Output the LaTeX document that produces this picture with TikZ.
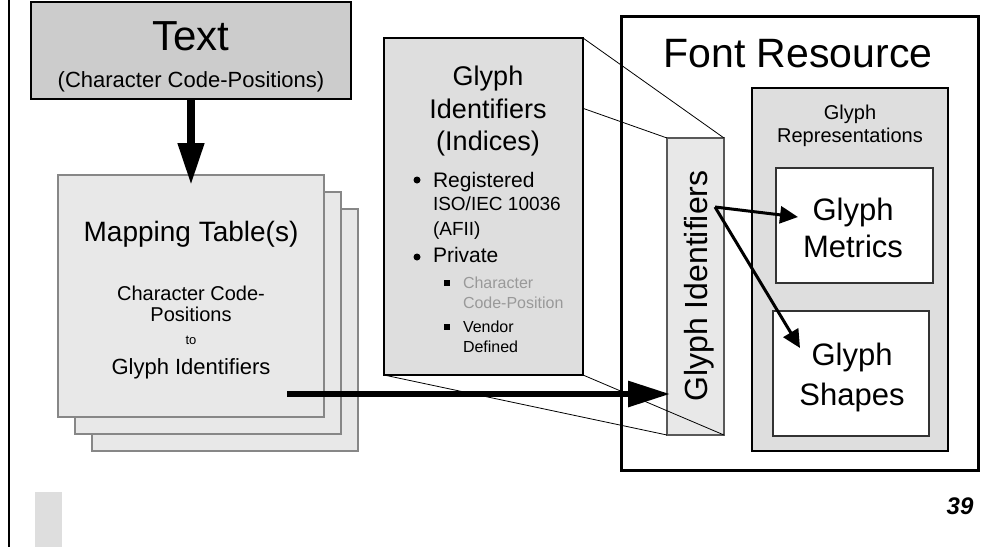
\documentclass[tikz,border=0pt]{standalone}
\usepackage{fontspec}
\setmainfont{Liberation Sans}
\usetikzlibrary{arrows.meta}
\newcommand{\sz}[1]{\fontsize{#1}{#1}\selectfont}

\begin{document}
\begin{tikzpicture}[x=1pt, y=-1pt,
  every node/.style = {outer sep=0pt, inner sep=0pt},
  txt/.style = {anchor=base, font=\sz{#1}},
  textbox/.style = {draw, line width=2pt, fill=black!20},
  sheet/.style = {draw=black!47, line width=1.8pt, fill=black!9,
    minimum width=266pt, minimum height=242pt},
  idxbox/.style = {draw, line width=2pt, fill=black!13},
  fontbox/.style = {draw, line width=3pt, fill=white},
  repbox/.style = {draw, line width=2.5pt, fill=black!13},
  glyphbox/.style = {draw=black!80, line width=1.5pt, fill=white},
  idbar/.style = {draw=black!65, line width=1.2pt, fill=black!9},
  proj/.style = {line width=0.8pt},
  bigarrow/.style = {line width=#1, -{Triangle[length=42pt,width=25pt]}},
  smallarrow/.style = {line width=3pt, -{Triangle[length=18pt,width=17pt]}}]

  \useasboundingbox (0,0) rectangle (1003,547);

  % page furniture
  \draw[line width=1.2pt] (9,0) -- (9,547);
  \fill[black!13] (35,492) rectangle (62,547);
  \node[anchor=base, font=\sz{24}\bfseries\itshape] (pageno) at (960,514) {39};

  % text
  \node[textbox, minimum width=320pt, minimum height=97pt] (text) at (191,50.5) {};
  \node[txt=42] (textT) at (191,50) {Text};
  \node[txt=22] (textC) at (191,87) {(Character Code-Positions)};

  % mapping tables, back to front
  \foreach \i in {3,2,1}
    \node[sheet] (map\i) at ({191+17*(\i-1)}, {296+17*(\i-1)}) {};
  \node[txt=28] (mapT) at (191,241) {Mapping Table(s)};
  \node[txt=20] (mapA) at (191,300) {Character Code-};
  \node[txt=20] (mapB) at (191,321) {Positions};
  \node[txt=13] (mapC) at (191,344) {to};
  \node[txt=22] (mapD) at (191,374) {Glyph Identifiers};

  % font resource
  \node[fontbox, minimum width=357pt, minimum height=454pt] (font) at (799.5,243) {};
  \node[txt=41] (fontT) at (798,67) {Font Resource};
  \node[repbox, minimum width=196pt, minimum height=363pt] (rep) at (850,269.5) {};
  \node[txt=20] (repA) at (850,119) {Glyph};
  \node[txt=20] (repB) at (850,142) {Representations};
  \node[glyphbox, minimum width=157pt, minimum height=115pt] (metrics) at (854.5,225.5) {};
  \node[txt=31] (metA) at (853,220) {Glyph};
  \node[txt=31] (metB) at (853,257) {Metrics};
  \node[glyphbox, minimum width=156pt, minimum height=125pt] (shapes) at (851,373.5) {};
  \node[txt=31] (shpA) at (852,365) {Glyph};
  \node[txt=31] (shpB) at (852,405) {Shapes};

  % identifier bar
  \node[idbar, minimum width=57pt, minimum height=297pt] (bar) at (695.5,286.5) {};
  \node[anchor=base, rotate=90, font=\sz{32}] (barT) at (707,286) {Glyph Identifiers};

  % projection from the index box onto the bar
  \coordinate (i1) at (384,38);  \coordinate (i2) at (583,38);
  \coordinate (i3) at (384,375); \coordinate (i4) at (583,375);
  \draw[proj] (i1) -- (bar.north west);
  \draw[proj] (i2) -- (bar.north east);
  \draw[proj] (i3) -- (bar.south west);
  \draw[proj] (i4) -- (bar.south east);

  % index box
  \node[idxbox, minimum width=199pt, minimum height=337pt] (idx) at (483.5,206.5) {};
  \node[txt=27] (idxA) at (488,85) {Glyph};
  \node[txt=27] (idxB) at (488,118) {Identifiers};
  \node[txt=27] (idxC) at (488,150) {(Indices)};
  \fill (417,180) circle (3.5);
  \node[txt=21, anchor=base west] (reg) at (433,187) {Registered};
  \node[txt=19, anchor=base west] (iso) at (433,210) {ISO/IEC 10036};
  \node[txt=19, anchor=base west] (afii) at (433,235) {(AFII)};
  \fill (417,257) circle (3.5);
  \node[txt=21, anchor=base west] (priv) at (433,262) {Private};
  \fill (444,280) rectangle (450,286);
  \node[txt=16, anchor=base west, text=black!40] (chA) at (463,288) {Character};
  \node[txt=16, anchor=base west, text=black!40] (chB) at (463,308) {Code-Position};
  \fill (444,324) rectangle (450,330);
  \node[txt=16, anchor=base west] (venA) at (463,332) {Vendor};
  \node[txt=16, anchor=base west] (venB) at (463,352) {Defined};

  % arrows
  \draw[bigarrow=7.5pt] (text.south) -- ([yshift=-10pt]map1.north);
  \coordinate (src) at (287,394);
  \draw[bigarrow=6pt] (src) -- ([xshift=3pt]src -| bar.west);
  \coordinate (fork) at (715,207);
  \coordinate (mtip) at (798,217);
  \coordinate (stip) at (800,348);
  \draw[smallarrow] (fork) -- (mtip);
  \draw[smallarrow] (fork) -- (stip);
\end{tikzpicture}
\end{document}
